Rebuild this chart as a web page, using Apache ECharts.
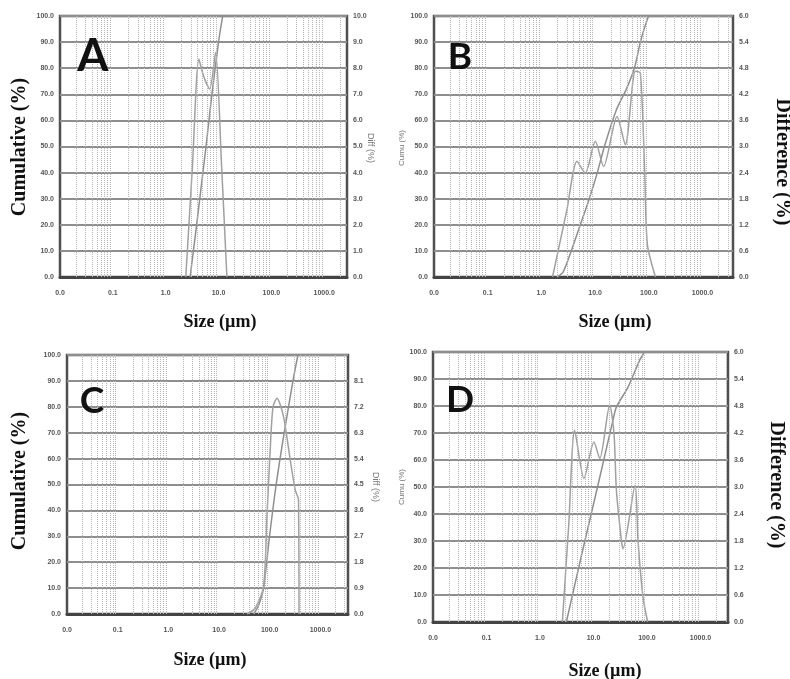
<!DOCTYPE html>
<html><head><meta charset="utf-8">
<script src="https://cdn.jsdelivr.net/npm/echarts@6/dist/echarts.min.js"></script>
<style>html,body{margin:0;padding:0;background:#fff}#c{width:790px;height:679px}</style>
</head><body><div id="c"></div>
<script>
// ---- Data (size in µm, cumulative %, difference %) ----
const panelLetters = ['A', 'B', 'C', 'D'];
const xMaxes = [2700, 3700, 3500, 3270];
const rightMax = [10, 6, 9, 6];
const rightInterval = [1, 0.6, 0.9, 0.6];
const minorTicks = [0.02,0.03,0.04,0.05,0.06,0.07,0.08,0.09,0.2,0.3,0.4,0.5,0.6,0.7,0.8,0.9,2,3,4,5,6,7,8,9,20,30,40,50,60,70,80,90,200,300,400,500,600,700,800,900,2000,3000];

const cumA = [[2.9,0],[3.85,20],[5.8,50],[7.5,70],[10,90],[11,95.5],[12,100]];
const diffA = [[2.4,0],[3.2,4.2],[4.25,8.35],[5.2,7.7],[6.8,7.2],[8.8,8.6],[11.4,4.3],[14.4,0]];

const cumB = [[1.95,0],[2.55,2],[3.6,10],[5.3,20],[7.8,30],[11.0,40],[14.9,50],[24.9,64],[38.2,72],[53.9,80],[69.7,90],[84.5,96],[99.5,100]];
const diffB = [[1.61,0],[2.99,1.55],[4.6,2.66],[6.56,2.39],[10.1,3.12],[14.4,2.54],[25.6,3.69],[36.6,3.04],[56.2,4.73],[69.7,4.69],[84,2.4],[94,0.75],[133,0]];

const cumC = [[47.9,0],[59.3,3],[75.5,10],[99,30],[134,50],[193,70],[287,90],[360,100]];
const diffC = [[35.5,0],[51.8,0.2],[75.5,0.95],[88.1,3.38],[102,5.7],[116,7.2],[139,7.5],[187,6.86],[254,5.35],[318,4.31],[370,3.96],[378,0]];

const cumD = [[3.11,0],[6.02,25],[11.9,50],[23.1,74.7],[26.8,79.6],[44.2,87],[73.1,97],[90.6,100]];
const diffD = [[2.62,0],[3.44,2.15],[4.45,4.26],[6.64,3.19],[10.2,4.0],[13.1,3.63],[20.1,4.82],[24.2,4.19],[26.8,2.93],[33.2,1.82],[35.6,1.63],[60.1,3.04],[67.9,1.82],[84.1,0.56],[103,0]];

const cumData = [cumA, cumB, cumC, cumD];
const diffData = [diffA, diffB, diffC, diffD];

// ---- Layout ----
const grids = [
  {left:60, top:16, width:287, height:261},
  {left:434, top:16, width:299, height:261},
  {left:67, top:355, width:281, height:259},
  {left:433, top:352, width:295, height:270}
];

const labelFont = {fontSize:7, color:'#555', fontWeight:'bold', fontFamily:'Liberation Sans Narrow, Liberation Sans, sans-serif'};
const xAxes = [], yAxes = [], series = [];
grids.forEach((g, i) => {
  xAxes.push({
    type:'log', logBase:10, gridIndex:i, min:0.01, max:xMaxes[i],
    axisLine:{show:true, lineStyle:{color:'#444', width:3}},
    axisTick:{show:false}, splitLine:{show:false},
    axisLabel:Object.assign({}, labelFont, {margin:13, fontFamily:'Liberation Sans, sans-serif',
      formatter:v => { const l = Math.log10(v); return Math.abs(l - Math.round(l)) < 1e-6 ? v.toFixed(1) : ''; }})
  });
  yAxes.push({
    type:'value', gridIndex:i, position:'left', min:0, max:100, interval:10,
    axisLine:{show:false}, axisTick:{show:false},
    splitLine:{show:true, lineStyle:{color:'#8e8e8e', width:2}},
    axisLabel:Object.assign({margin:6, formatter:v => v.toFixed(1)}, labelFont)
  });
  yAxes.push({
    type:'value', gridIndex:i, position:'right', min:0, max:rightMax[i], interval:rightInterval[i],
    axisLine:{show:false}, axisTick:{show:false}, splitLine:{show:false},
    axisLabel:Object.assign({margin:6, showMaxLabel: i !== 2, formatter:v => v.toFixed(1)}, labelFont)
  });
  series.push({
    type:'line', xAxisIndex:i, yAxisIndex:2*i, data:[], silent:true, z:1,
    markLine:{silent:true, symbol:'none', label:{show:false},
      lineStyle:{type:'dotted', color:'#b5b5b5', width:1},
      data:minorTicks.filter(t => t < xMaxes[i]).map(t => ({xAxis:t}))}
  });
  series.push({
    type:'line', xAxisIndex:i, yAxisIndex:2*i, data:cumData[i], showSymbol:false, smooth:0.25,
    lineStyle:{color:'#8f8f8f', width:1.5}, z:3
  });
  series.push({
    type:'line', xAxisIndex:i, yAxisIndex:2*i+1, data:diffData[i], showSymbol:false, smooth:0.25,
    lineStyle:{color:'#a0a0a0', width:1.5}, z:3
  });
});

const serif = 'Liberation Serif, DejaVu Serif, serif';
function txt(x, y, s, size, rot, family, weight, color) {
  return {type:'text', x:x, y:y, rotation:rot, z:10,
    style:{text:s, fontSize:size, fontFamily:family, fontWeight:weight, fill:color || '#111', align:'center', verticalAlign:'middle'}};
}
const graphics = [
  txt(93, 56, 'A', 45, 0, 'Lato, Open Sans, sans-serif', 'bold'),
  txt(460, 57, 'B', 37, 0, 'Lato, Open Sans, sans-serif', 'bold'),
  txt(92, 401, 'C', 37, 0, 'Lato, Open Sans, sans-serif', 'bold'),
  txt(460, 400, 'D', 37, 0, 'Lato, Open Sans, sans-serif', 'bold'),
  txt(20, 147, 'Cumulative (%)', 20, Math.PI/2, serif, 'bold'),
  txt(20, 481, 'Cumulative (%)', 20, Math.PI/2, serif, 'bold'),
  txt(782, 162, 'Difference (%)', 20, -Math.PI/2, serif, 'bold'),
  txt(776, 485, 'Difference (%)', 20, -Math.PI/2, serif, 'bold'),
  txt(370, 148, 'Diff (%)', 9, -Math.PI/2, 'Liberation Sans, sans-serif', 'normal', '#777'),
  txt(375, 487, 'Diff (%)', 9, -Math.PI/2, 'Liberation Sans, sans-serif', 'normal', '#777'),
  txt(402, 148, 'Cumu (%)', 8, Math.PI/2, 'Liberation Sans, sans-serif', 'normal', '#777'),
  txt(402, 487, 'Cumu (%)', 8, Math.PI/2, 'Liberation Sans, sans-serif', 'normal', '#777'),
  txt(220, 322, 'Size (µm)', 18, 0, serif, 'bold'),
  txt(615, 322, 'Size (µm)', 18, 0, serif, 'bold'),
  txt(210, 660, 'Size (µm)', 18, 0, serif, 'bold'),
  txt(605, 671, 'Size (µm)', 18, 0, serif, 'bold')
];

const chart = echarts.init(document.getElementById('c'), null, {renderer:'canvas'});
chart.setOption({
  animation:false,
  backgroundColor:'#fff',
  grid:grids.map(g => Object.assign({show:true, borderColor:'#505050', borderWidth:2.5, containLabel:false}, g)),
  xAxis:xAxes,
  yAxis:yAxes,
  series:series,
  graphic:graphics
});
</script></body></html>
